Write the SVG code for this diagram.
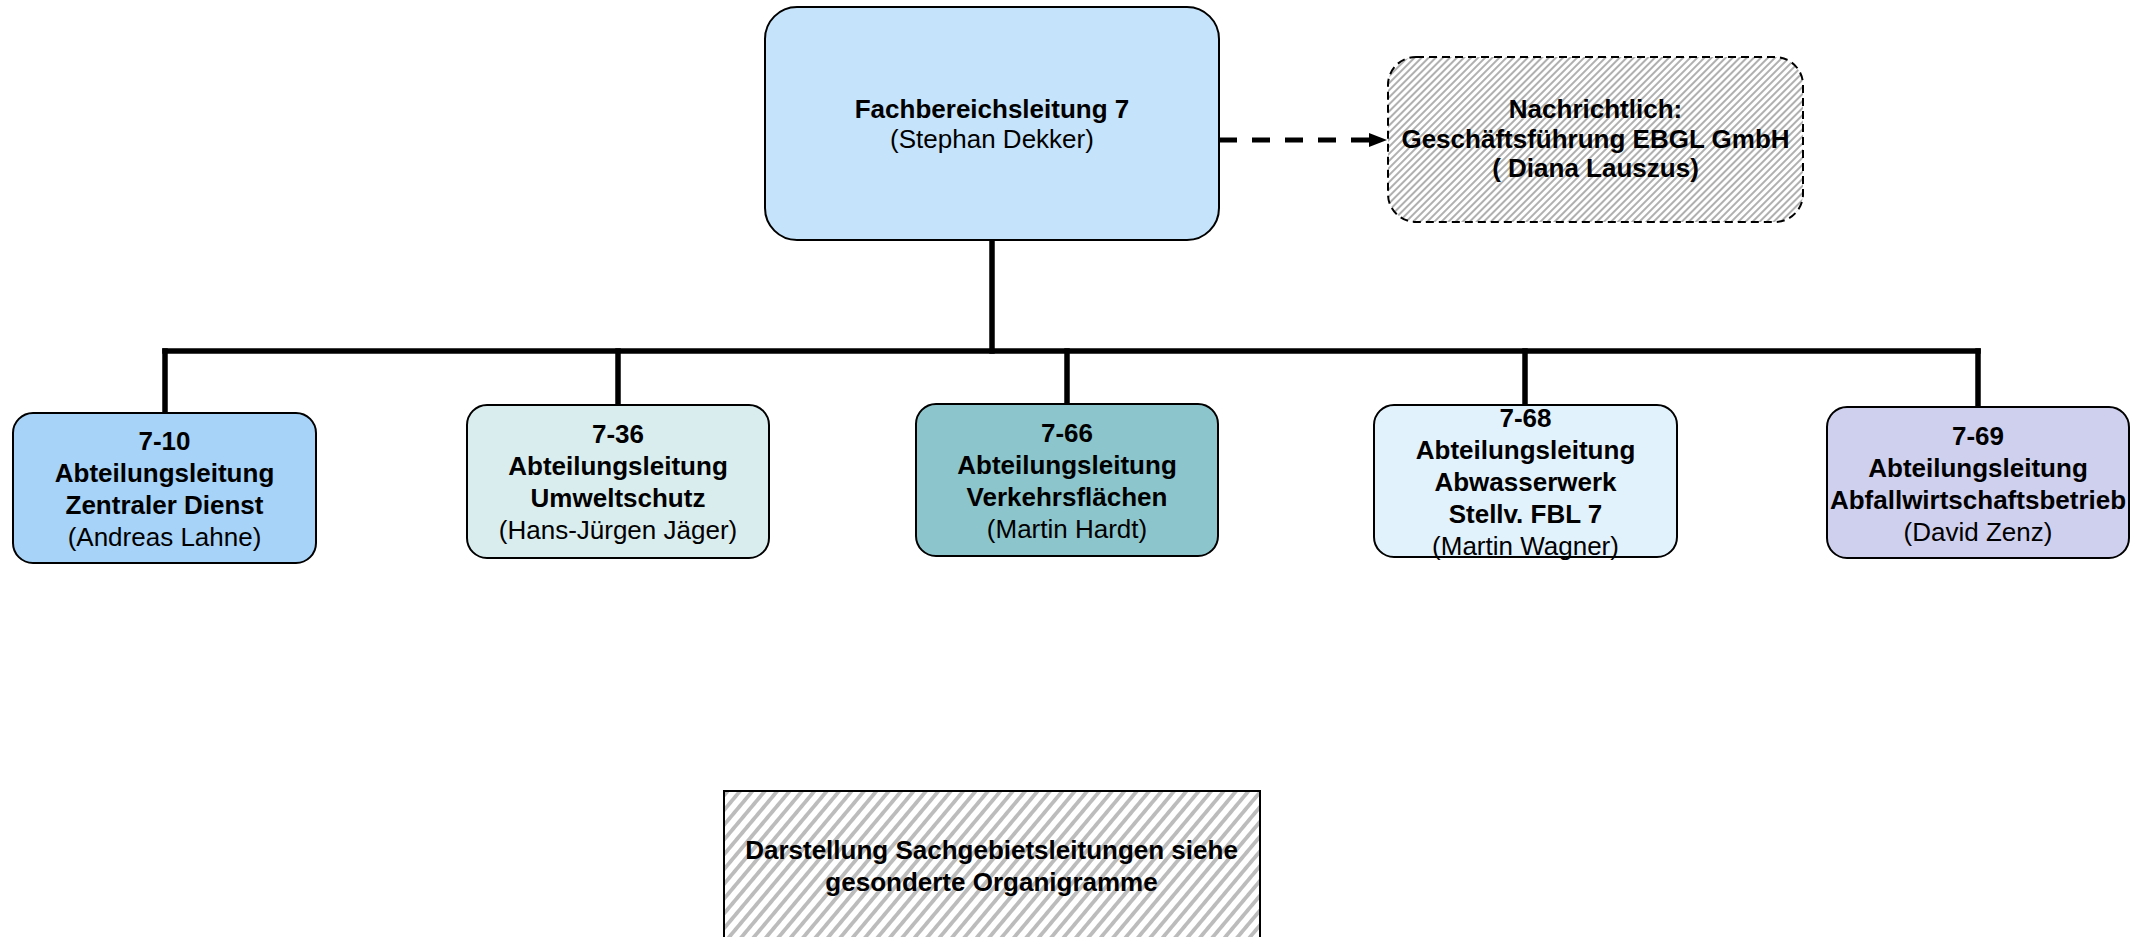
<svg xmlns="http://www.w3.org/2000/svg" width="2154" height="937" viewBox="0 0 2154 937">
  <style>
    text { font-family: "Liberation Sans", Arial, sans-serif; font-size: 26px; fill: #000; text-anchor: middle; }
    .b { font-weight: bold; }
    .box { stroke: #000; stroke-width: 2; }
    .conn { stroke: #000; stroke-width: 5.5; fill: none; stroke-linecap: square; }
  </style>
  <defs>
    <pattern id="hatchFine" width="5" height="5" patternUnits="userSpaceOnUse" patternTransform="rotate(45)">
      <rect width="5" height="5" fill="#ffffff"/>
      <rect x="0" y="0" width="2" height="5" fill="#b0b0b0"/>
    </pattern>
    <pattern id="hatchWide" width="9.5" height="10" patternUnits="userSpaceOnUse" patternTransform="rotate(40)">
      <rect width="9.5" height="10" fill="#ffffff"/>
      <rect x="0" y="0" width="3.8" height="10" fill="#bcbcbc"/>
    </pattern>
    <marker id="arrow" markerUnits="userSpaceOnUse" markerWidth="18" markerHeight="14" refX="0" refY="7" orient="auto">
      <path d="M0,0 L18,7 L0,14 z" fill="#000"/>
    </marker>
  </defs>

  <g id="connectors">
    <path class="conn" d="M992,240 V351"/>
    <path class="conn" d="M165,351 H1978"/>
    <path class="conn" d="M165,351 V412"/>
    <path class="conn" d="M618,351 V404"/>
    <path class="conn" d="M1067,351 V403"/>
    <path class="conn" d="M1525,351 V404"/>
    <path class="conn" d="M1978,351 V406"/>
    <path d="M1219,140 H1369" stroke="#000" stroke-width="5" stroke-dasharray="18 15" fill="none" marker-end="url(#arrow)"/>
  </g>

  <g id="fbl7">
    <rect class="box" x="765" y="7" width="454" height="233" rx="32" fill="#c5e3fa"/>
    <text class="b" x="992" y="118">Fachbereichsleitung 7</text>
    <text x="992" y="148">(Stephan Dekker)</text>
  </g>

  <g id="ebgl">
    <rect x="1388" y="57" width="415" height="165" rx="28" fill="url(#hatchFine)" stroke="#000" stroke-width="2" stroke-dasharray="8 5"/>
    <text class="b" x="1595.5" y="118">Nachrichtlich:</text>
    <text class="b" x="1595.5" y="148">Geschäftsführung EBGL GmbH</text>
    <text class="b" x="1595.5" y="177">( Diana Lauszus)</text>
  </g>

  <g id="al710">
    <rect class="box" x="13" y="413" width="303" height="150" rx="20" fill="#a6d3f7"/>
    <text class="b" x="164.5" y="450">7-10</text>
    <text class="b" x="164.5" y="482">Abteilungsleitung</text>
    <text class="b" x="164.5" y="514">Zentraler Dienst</text>
    <text x="164.5" y="546">(Andreas Lahne)</text>
  </g>

  <g id="al736">
    <rect class="box" x="467" y="405" width="302" height="153" rx="20" fill="#daedee"/>
    <text class="b" x="618" y="443">7-36</text>
    <text class="b" x="618" y="475">Abteilungsleitung</text>
    <text class="b" x="618" y="507">Umweltschutz</text>
    <text x="618" y="539">(Hans-Jürgen Jäger)</text>
  </g>

  <g id="al766">
    <rect class="box" x="916" y="404" width="302" height="152" rx="20" fill="#8cc6cc"/>
    <text class="b" x="1067" y="442">7-66</text>
    <text class="b" x="1067" y="474">Abteilungsleitung</text>
    <text class="b" x="1067" y="506">Verkehrsflächen</text>
    <text x="1067" y="538">(Martin Hardt)</text>
  </g>

  <g id="al768">
    <rect class="box" x="1374" y="405" width="303" height="152" rx="20" fill="#e2f2fc"/>
    <text class="b" x="1525.5" y="427">7-68</text>
    <text class="b" x="1525.5" y="459">Abteilungsleitung</text>
    <text class="b" x="1525.5" y="491">Abwasserwerk</text>
    <text class="b" x="1525.5" y="523">Stellv. FBL 7</text>
    <text x="1525.5" y="555">(Martin Wagner)</text>
  </g>

  <g id="al769">
    <rect class="box" x="1827" y="407" width="302" height="151" rx="20" fill="#cfd0ee"/>
    <text class="b" x="1978" y="445">7-69</text>
    <text class="b" x="1978" y="477">Abteilungsleitung</text>
    <text class="b" x="1978" y="509">Abfallwirtschaftsbetrieb</text>
    <text x="1978" y="541">(David Zenz)</text>
  </g>

  <g id="note">
    <rect x="724" y="791" width="536" height="170" fill="url(#hatchWide)" stroke="#000" stroke-width="2"/>
    <text class="b" x="991.5" y="859">Darstellung Sachgebietsleitungen siehe</text>
    <text class="b" x="991.5" y="891">gesonderte Organigramme</text>
  </g>
</svg>
